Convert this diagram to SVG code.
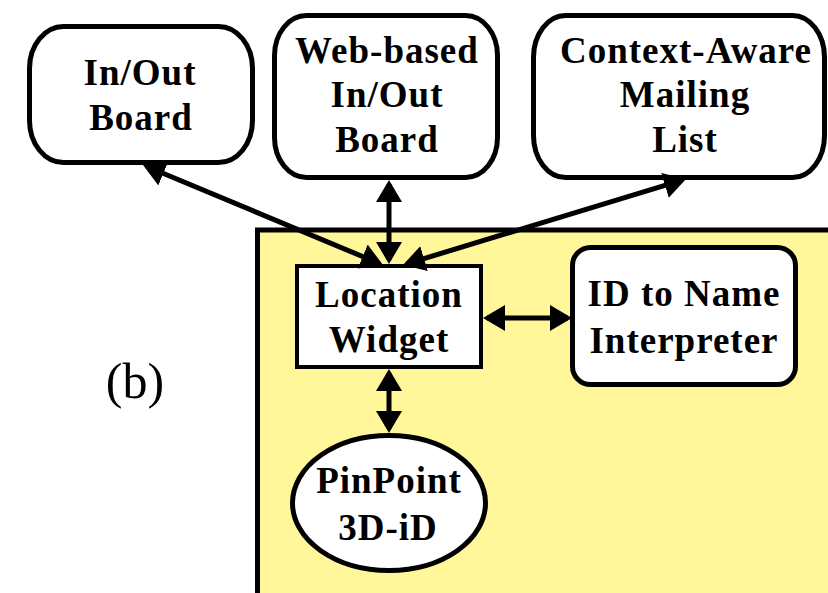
<svg xmlns="http://www.w3.org/2000/svg" width="828" height="593" viewBox="0 0 828 593">
<style>
.node{fill:#ffffff;stroke:#000000;stroke-width:5}
.lbl{font-family:"Liberation Serif","Times New Roman",serif;font-weight:bold;font-size:37px;letter-spacing:1px;fill:#000000;text-anchor:middle}
.conn{stroke:#000000;stroke-width:5;fill:none;marker-start:url(#ah);marker-end:url(#ah)}
</style>
<defs>
<marker id="ah" viewBox="0 0 22 26" refX="18" refY="13" markerWidth="22" markerHeight="26" markerUnits="userSpaceOnUse" orient="auto-start-reverse">
<path d="M0,0 L22,13 L0,26 z" fill="#000000"/>
</marker>
</defs>
<rect width="828" height="593" fill="#ffffff"/>
<rect id="panel" x="257.5" y="230" width="600" height="400" fill="#fff799" stroke="#000000" stroke-width="5"/>
<text x="135" y="398" style="font-family:'Liberation Serif','Times New Roman',serif;font-size:50px;fill:#000000;text-anchor:middle">(b)</text>
<g id="inout-board">
<rect class="node" x="29.5" y="26.5" width="223" height="136" rx="34" ry="42"/>
<text class="lbl" x="140" y="85">In/Out</text>
<text class="lbl" x="141" y="130">Board</text>
</g>
<g id="web-inout-board">
<rect class="node" x="274.5" y="15.5" width="223" height="162" rx="32" ry="40"/>
<text class="lbl" x="387" y="63">Web-based</text>
<text class="lbl" x="387" y="107">In/Out</text>
<text class="lbl" x="387" y="152">Board</text>
</g>
<g id="mailing-list">
<rect class="node" x="533.5" y="15.5" width="291" height="162" rx="32" ry="42"/>
<text class="lbl" x="686" y="63">Context-Aware</text>
<text class="lbl" x="685" y="107">Mailing</text>
<text class="lbl" x="685" y="152">List</text>
</g>
<g id="location-widget">
<rect class="node" x="297" y="266" width="184" height="101" style="stroke-width:4"/>
<text class="lbl" x="389" y="307">Location</text>
<text class="lbl" x="389" y="352">Widget</text>
</g>
<g id="id-interpreter">
<rect class="node" x="572.5" y="247.5" width="223" height="137" rx="18" ry="18"/>
<text class="lbl" x="684" y="306">ID to Name</text>
<text class="lbl" x="684" y="353">Interpreter</text>
</g>
<g id="pinpoint">
<ellipse class="node" cx="389" cy="503" rx="96.5" ry="67.5"/>
<text class="lbl" x="389" y="493">PinPoint</text>
<text class="lbl" x="388" y="540">3D-iD</text>
</g>
<g id="connectors">
<line class="conn" x1="146.7" y1="166.5" x2="379.3" y2="263.5"/>
<line class="conn" x1="389" y1="184" x2="389" y2="260"/>
<line class="conn" x1="682.2" y1="180.2" x2="406.8" y2="263.8"/>
<line class="conn" x1="487" y1="318" x2="568" y2="318"/>
<line class="conn" x1="389" y1="373" x2="389" y2="429"/>
</g>
</svg>
